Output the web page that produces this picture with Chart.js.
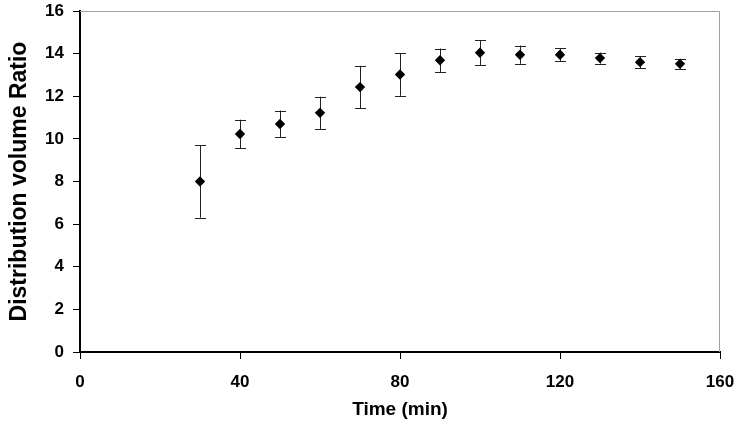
<!DOCTYPE html>
<html lang="en">
<head>
    <meta charset="UTF-8">
    <title>Distribution volume ratio</title>
    <script src="https://cdn.jsdelivr.net/npm/chart.js"></script>
    <style>
        body { margin: 0; padding: 0; background: white; }
        #wrap { width: 739px; height: 427px; }
    </style>
</head>
<body>
<div id="wrap"><canvas id="chart"></canvas></div>

<script>
    const times = [30, 40, 50, 60, 70, 80, 90, 100, 110, 120, 130, 140, 150];
    const ratio = [8.0, 10.23, 10.7, 11.22, 12.43, 13.02, 13.69, 14.04, 13.95, 13.95, 13.79, 13.6, 13.52];
    const errors = [1.7, 0.67, 0.63, 0.76, 1.0, 1.0, 0.55, 0.58, 0.43, 0.3, 0.26, 0.28, 0.24];
    const xTicks = [0, 40, 80, 120, 160];
    const yTicks = [0, 2, 4, 6, 8, 10, 12, 14, 16];

    // error bars + gray frame on top/right
    const errorBars = {
        id: 'errorBars',
        beforeDatasetsDraw(chart) {
            const { ctx, chartArea, scales: { x, y } } = chart;
            ctx.save();
            ctx.strokeStyle = '#a0a0a0';
            ctx.lineWidth = 1;
            ctx.beginPath();
            ctx.moveTo(chartArea.left, chartArea.top + 0.5);
            ctx.lineTo(chartArea.right - 0.5, chartArea.top + 0.5);
            ctx.lineTo(chartArea.right - 0.5, chartArea.bottom);
            ctx.stroke();

            ctx.strokeStyle = '#222';
            times.forEach((t, i) => {
                const px = Math.round(x.getPixelForValue(t)) + 0.5;
                const top = y.getPixelForValue(ratio[i] + errors[i]);
                const bot = y.getPixelForValue(ratio[i] - errors[i]);
                ctx.beginPath();
                ctx.moveTo(px, top);
                ctx.lineTo(px, bot);
                ctx.moveTo(px - 5.5, Math.round(top) + 0.5);
                ctx.lineTo(px + 5.5, Math.round(top) + 0.5);
                ctx.moveTo(px - 5.5, Math.round(bot) + 0.5);
                ctx.lineTo(px + 5.5, Math.round(bot) + 0.5);
                ctx.stroke();
            });
            ctx.restore();
        }
    };

    const tickFont = { family: 'Liberation Sans, Arial, sans-serif', size: 17, weight: 'bold' };
    const xTitleFont = { family: 'Liberation Sans, Arial, sans-serif', size: 19, weight: 'bold' };
    const yTitleFont = { family: 'Liberation Sans, Arial, sans-serif', size: 23, weight: 'bold' };

    new Chart(document.getElementById('chart'), {
        type: 'scatter',
        data: {
            datasets: [{
                data: times.map((t, i) => ({ x: t, y: ratio[i] })),
                pointStyle: 'rectRot',
                radius: 5.2,
                hoverRadius: 5.2,
                backgroundColor: '#000',
                borderColor: '#000',
                borderWidth: 0
            }]
        },
        options: {
            responsive: true,
            maintainAspectRatio: false,
            animation: false,
            layout: { padding: { left: 0, right: 19, top: 11, bottom: 0 } },
            plugins: { legend: { display: false }, tooltip: { enabled: false } },
            scales: {
                x: {
                    min: 0, max: 160,
                    afterBuildTicks: axis => { axis.ticks = xTicks.map(v => ({ value: v })); },
                    afterFit: axis => { axis.paddingRight = 0; axis.paddingLeft = 0; axis.height = 75; },
                    grid: { drawOnChartArea: false, color: '#000', tickLength: 7, tickColor: '#000' },
                    border: { color: '#000', width: 2 },
                    ticks: { color: '#000', font: tickFont, padding: 13, maxRotation: 0 },
                    title: { display: true, text: 'Time (min)', color: '#000', font: xTitleFont, padding: { top: 0, bottom: 6 } }
                },
                y: {
                    min: 0, max: 16,
                    afterBuildTicks: axis => { axis.ticks = yTicks.map(v => ({ value: v })); },
                    afterFit: axis => { axis.paddingTop = 0; axis.paddingBottom = 0; axis.width = 80; },
                    grid: { drawOnChartArea: false, color: '#000', tickLength: 7, tickColor: '#000' },
                    border: { color: '#000', width: 2 },
                    ticks: { color: '#000', font: tickFont, padding: 9 },
                    title: { display: true, text: 'Distribution volume Ratio', color: '#000', font: yTitleFont, padding: { top: 6, bottom: 3 } }
                }
            }
        },
        plugins: [errorBars]
    });
</script>
</body>
</html>
